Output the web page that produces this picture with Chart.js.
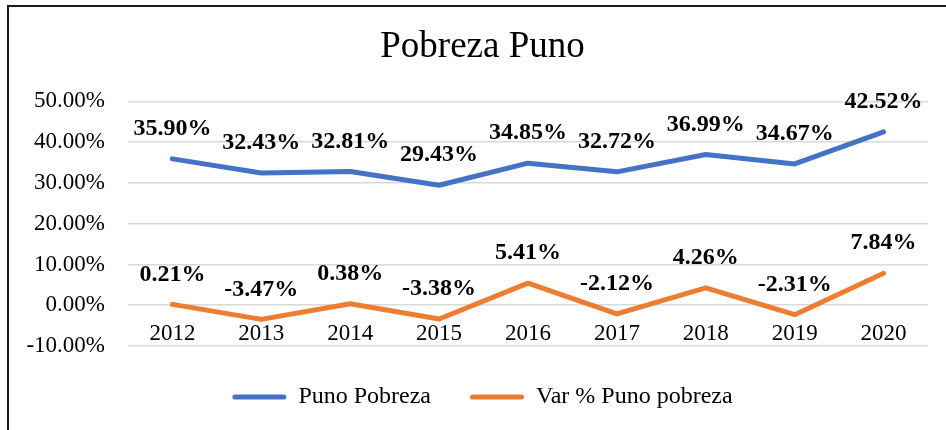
<!DOCTYPE html>
<html>
<head>
<meta charset="utf-8">
<title>Pobreza Puno</title>
<script src="https://cdn.jsdelivr.net/npm/chart.js@4.4.1/dist/chart.umd.min.js"></script>
<style>
  html, body { margin: 0; padding: 0; background: #ffffff; }
  canvas { display: block; }
</style>
</head>
<body>
<canvas id="pobrezaChart" width="946" height="430"></canvas>
<script>
// Data
const years = ['2012', '2013', '2014', '2015', '2016', '2017', '2018', '2019', '2020'];
const punoPobreza = [35.90, 32.43, 32.81, 29.43, 34.85, 32.72, 36.99, 34.67, 42.52];
const varPunoPobreza = [0.21, -3.47, 0.38, -3.38, 5.41, -2.12, 4.26, -2.31, 7.84];
const yTicks = [-10, 0, 10, 20, 30, 40, 50];

const serif = '"Liberation Serif", "Times New Roman", serif';

// Left and top frame lines of the chart box
const framePlugin = {
  id: 'frame',
  afterLayout(chart) {
    // widen the y axis label clip so "-10.00%" is not cut off
    chart.scales.y.left = 12;
  },
  beforeDraw(chart) {
    const ctx = chart.ctx;
    ctx.save();
    ctx.fillStyle = '#1a1a1a';
    ctx.fillRect(7, 5, chart.width, 2);
    ctx.fillRect(7, 5, 2, chart.height);
    ctx.restore();
  }
};

// Bold value labels above each point
const valueLabels = {
  id: 'valueLabels',
  afterDatasetsDraw(chart) {
    const ctx = chart.ctx;
    ctx.save();
    ctx.font = 'bold 24px ' + serif;
    ctx.fillStyle = '#000000';
    ctx.textAlign = 'center';
    ctx.textBaseline = 'middle';
    chart.data.datasets.forEach((ds, i) => {
      const meta = chart.getDatasetMeta(i);
      meta.data.forEach((pt, j) => {
        ctx.fillText(ds.data[j].toFixed(2) + '%', pt.x, pt.y - 30);
      });
    });
    ctx.restore();
  }
};

new Chart(document.getElementById('pobrezaChart'), {
  type: 'line',
  data: {
    labels: years,
    datasets: [
      {
        label: 'Puno Pobreza',
        data: punoPobreza,
        borderColor: '#4472C4',
        backgroundColor: '#4472C4',
        borderWidth: 5,
        pointRadius: 0,
        tension: 0,
        borderJoinStyle: 'round',
        borderCapStyle: 'round'
      },
      {
        label: 'Var % Puno pobreza',
        data: varPunoPobreza,
        borderColor: '#ED7D31',
        backgroundColor: '#ED7D31',
        borderWidth: 5,
        pointRadius: 0,
        tension: 0,
        borderJoinStyle: 'round',
        borderCapStyle: 'round'
      }
    ]
  },
  options: {
    responsive: false,
    animation: false,
    devicePixelRatio: 1,
    layout: {
      padding: { top: 8, left: 37, right: 18, bottom: 11 }
    },
    plugins: {
      title: {
        display: true,
        text: 'Pobreza Puno',
        color: '#000000',
        font: { family: serif, size: 37, weight: 'normal' },
        padding: { top: 17, bottom: 32 }
      },
      legend: {
        display: true,
        position: 'bottom',
        labels: {
          color: '#000000',
          font: { family: serif, size: 24 },
          boxWidth: 54,
          boxHeight: 5,
          padding: 39,
          useBorderRadius: true,
          borderRadius: 2.5,
          generateLabels(chart) {
            return chart.data.datasets.map((ds, i) => ({
              text: ds.label,
              fillStyle: ds.borderColor,
              strokeStyle: ds.borderColor,
              lineWidth: 0,
              borderRadius: 2.5,
              datasetIndex: i
            }));
          }
        }
      },
      tooltip: { enabled: false }
    },
    scales: {
      x: {
        type: 'category',
        offset: true,
        position: { y: 0 },
        grid: { display: false, drawTicks: false },
        border: { display: false },
        ticks: {
          color: '#000000',
          font: { family: serif, size: 23 },
          padding: 15,
          maxRotation: 0,
          autoSkip: false
        }
      },
      y: {
        min: -10,
        max: 50,
        afterFit(scale) { scale.width = 91; },
        afterBuildTicks(scale) { scale.ticks = yTicks.map(v => ({ value: v })); },
        grid: { color: '#d9d9d9', lineWidth: 1.5, drawTicks: false },
        border: { display: false },
        ticks: {
          color: '#000000',
          font: { family: serif, size: 23 },
          padding: 23,
          callback: (v) => v.toFixed(2) + '%'
        }
      }
    }
  },
  plugins: [framePlugin, valueLabels]
});
</script>
</body>
</html>
